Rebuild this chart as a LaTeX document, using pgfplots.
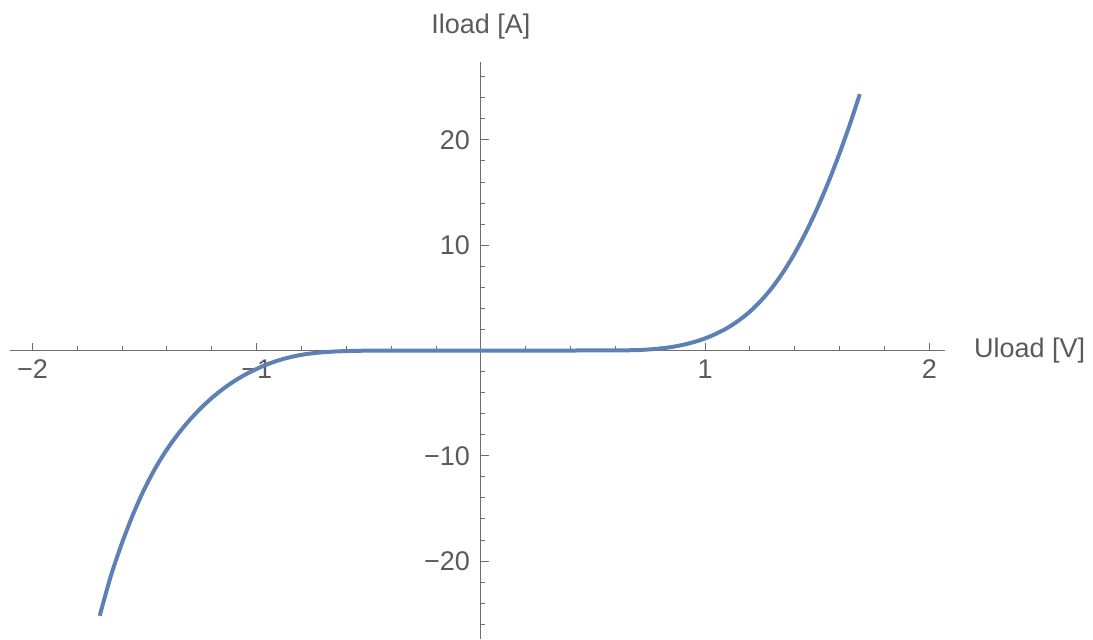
\documentclass[border=0pt]{standalone}
\usepackage{pgfplots}
\pgfplotsset{compat=1.18}
\usepackage{fontspec}
\setmainfont{Liberation Sans}
\definecolor{mmablue}{RGB}{94,129,181}
\definecolor{txtgray}{RGB}{90,90,90}
\definecolor{axgray}{RGB}{110,110,110}
\begin{document}
\begin{tikzpicture}
\begin{axis}[
  at={(0,0)}, anchor=south west,
  scale only axis,
  width=467.5pt, height=288.5pt,
  axis lines=middle,
  xmin=-2.1, xmax=2.07,
  ymin=-27.4, ymax=27.4,
  xtick={-2,-1,1,2},
  xticklabels={−2,−1,1,2},
  ytick={-20,-10,10,20},
  yticklabels={−20,−10,10,20},
  minor xtick={-1.8,-1.6,-1.4,-1.2,-0.8,-0.6,-0.4,-0.2,0.2,0.4,0.6,0.8,1.2,1.4,1.6,1.8},
  minor ytick={-26,-24,-22,-18,-16,-14,-12,-8,-6,-4,-2,2,4,6,8,12,14,16,18,22,24,26},
  tick align=inside,
  major tick length=4pt,
  minor tick length=2.2pt,
  every tick/.style={axgray, line width=0.5pt},
  axis line style={axgray, line width=0.6pt, -},
  tick label style={font=\fontsize{13.5}{16}\selectfont, text=txtgray},
  xticklabel style={yshift=-1pt},
  yticklabel style={xshift=-2pt},
  xlabel={Uload [V]},
  ylabel={Iload [A]},
  xlabel style={at={(rel axis cs:1,0.5)}, anchor=west, xshift=11pt, font=\fontsize{13.5}{16}\selectfont, text=txtgray},
  ylabel style={at={(rel axis cs:0.5036,1)}, anchor=south, yshift=8pt, font=\fontsize{13.5}{16}\selectfont, text=txtgray},
  clip=false,
]
\addplot[mmablue, line width=2pt, smooth, tension=0.5] coordinates {
(-1.70,-25.2) (-1.65,-21.4) (-1.60,-18.25) (-1.55,-15.5) (-1.50,-13.13)
(-1.45,-11.11) (-1.40,-9.39) (-1.35,-7.92) (-1.30,-6.63) (-1.25,-5.5)
(-1.20,-4.51) (-1.15,-3.65) (-1.10,-2.91) (-1.05,-2.28) (-1.00,-1.75)
(-0.95,-1.29) (-0.90,-0.92) (-0.85,-0.63) (-0.80,-0.41) (-0.75,-0.26)
(-0.70,-0.16) (-0.65,-0.095) (-0.60,-0.055) (-0.55,-0.03) (-0.50,-0.015)
(-0.40,-0.004) (-0.2,0) (0,0) (0.2,0) (0.40,0) (0.50,0.002) (0.55,0.004)
(0.60,0.006) (0.65,0.018) (0.70,0.045) (0.75,0.1) (0.80,0.19) (0.85,0.33)
(0.90,0.53) (0.95,0.8) (1.00,1.15) (1.05,1.6) (1.10,2.15)
(1.15,2.85) (1.20,3.7) (1.25,4.75) (1.30,6.0) (1.35,7.5)
(1.40,9.25) (1.45,11.25) (1.50,13.5) (1.55,16.0) (1.60,18.75)
(1.65,21.75) (1.69,24.35)
};
\end{axis}
\pgfresetboundingbox
\path (-5pt,0) rectangle (541.5pt,319.5pt);
\end{tikzpicture}
\end{document}
